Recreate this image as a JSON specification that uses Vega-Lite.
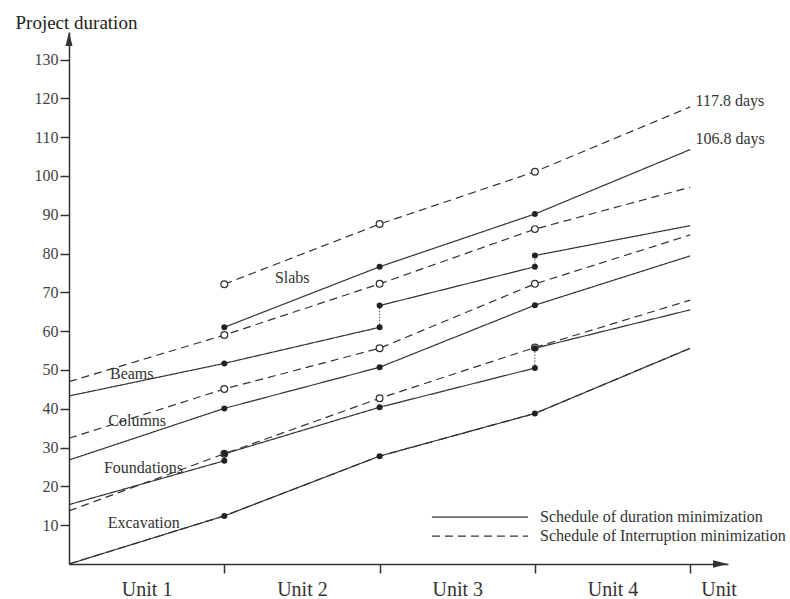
{
  "$schema": "https://vega.github.io/schema/vega-lite/v6.json",
  "width": 659,
  "height": 532,
  "autosize": {"type": "none"},
  "padding": {"left": 69, "top": 32, "right": 62, "bottom": 35},
  "background": "white",
  "config": {
    "view": {"stroke": null},
    "font": "Liberation Serif",
    "axis": {"grid": false}
  },
  "datasets": {
    "lines": [
      {"task": "Excavation", "sched": "D", "seg": "E-D", "x": 0, "y": 0},
      {"task": "Excavation", "sched": "D", "seg": "E-D", "x": 1, "y": 12.4},
      {"task": "Excavation", "sched": "D", "seg": "E-D", "x": 2, "y": 27.8},
      {"task": "Excavation", "sched": "D", "seg": "E-D", "x": 3, "y": 38.8},
      {"task": "Excavation", "sched": "D", "seg": "E-D", "x": 4, "y": 55.6},
      {"task": "Excavation", "sched": "I", "seg": "E-I", "x": 0, "y": 0},
      {"task": "Excavation", "sched": "I", "seg": "E-I", "x": 1, "y": 12.4},
      {"task": "Excavation", "sched": "I", "seg": "E-I", "x": 2, "y": 27.8},
      {"task": "Excavation", "sched": "I", "seg": "E-I", "x": 3, "y": 38.8},
      {"task": "Excavation", "sched": "I", "seg": "E-I", "x": 4, "y": 55.6},
      {"task": "Foundations", "sched": "D", "seg": "F-D1", "x": 0, "y": 15.3},
      {"task": "Foundations", "sched": "D", "seg": "F-D1", "x": 1, "y": 26.6},
      {"task": "Foundations", "sched": "D", "seg": "F-D2", "x": 1, "y": 28.4},
      {"task": "Foundations", "sched": "D", "seg": "F-D2", "x": 2, "y": 40.4},
      {"task": "Foundations", "sched": "D", "seg": "F-D2", "x": 3, "y": 50.5},
      {"task": "Foundations", "sched": "D", "seg": "F-D3", "x": 3, "y": 55.6},
      {"task": "Foundations", "sched": "D", "seg": "F-D3", "x": 4, "y": 65.5},
      {"task": "Foundations", "sched": "I", "seg": "F-I", "x": 0, "y": 13.7},
      {"task": "Foundations", "sched": "I", "seg": "F-I", "x": 1, "y": 28.4},
      {"task": "Foundations", "sched": "I", "seg": "F-I", "x": 2, "y": 42.7},
      {"task": "Foundations", "sched": "I", "seg": "F-I", "x": 3, "y": 55.8},
      {"task": "Foundations", "sched": "I", "seg": "F-I", "x": 4, "y": 68.0},
      {"task": "Columns", "sched": "D", "seg": "C-D", "x": 0, "y": 26.8},
      {"task": "Columns", "sched": "D", "seg": "C-D", "x": 1, "y": 40.1},
      {"task": "Columns", "sched": "D", "seg": "C-D", "x": 2, "y": 50.7},
      {"task": "Columns", "sched": "D", "seg": "C-D", "x": 3, "y": 66.7},
      {"task": "Columns", "sched": "D", "seg": "C-D", "x": 4, "y": 79.4},
      {"task": "Columns", "sched": "I", "seg": "C-I", "x": 0, "y": 32.4},
      {"task": "Columns", "sched": "I", "seg": "C-I", "x": 1, "y": 45.1},
      {"task": "Columns", "sched": "I", "seg": "C-I", "x": 2, "y": 55.6},
      {"task": "Columns", "sched": "I", "seg": "C-I", "x": 3, "y": 72.2},
      {"task": "Columns", "sched": "I", "seg": "C-I", "x": 4, "y": 84.8},
      {"task": "Beams", "sched": "D", "seg": "B-D1", "x": 0, "y": 43.3},
      {"task": "Beams", "sched": "D", "seg": "B-D1", "x": 1, "y": 51.7},
      {"task": "Beams", "sched": "D", "seg": "B-D1", "x": 2, "y": 61.0},
      {"task": "Beams", "sched": "D", "seg": "B-D2", "x": 2, "y": 66.6},
      {"task": "Beams", "sched": "D", "seg": "B-D2", "x": 3, "y": 76.6},
      {"task": "Beams", "sched": "D", "seg": "B-D3", "x": 3, "y": 79.5},
      {"task": "Beams", "sched": "D", "seg": "B-D3", "x": 4, "y": 87.2},
      {"task": "Beams", "sched": "I", "seg": "B-I", "x": 0, "y": 47.0},
      {"task": "Beams", "sched": "I", "seg": "B-I", "x": 1, "y": 59.0},
      {"task": "Beams", "sched": "I", "seg": "B-I", "x": 2, "y": 72.2},
      {"task": "Beams", "sched": "I", "seg": "B-I", "x": 3, "y": 86.3},
      {"task": "Beams", "sched": "I", "seg": "B-I", "x": 4, "y": 97.1},
      {"task": "Slabs", "sched": "D", "seg": "S-D", "x": 1, "y": 61.0},
      {"task": "Slabs", "sched": "D", "seg": "S-D", "x": 2, "y": 76.6},
      {"task": "Slabs", "sched": "D", "seg": "S-D", "x": 3, "y": 90.2},
      {"task": "Slabs", "sched": "D", "seg": "S-D", "x": 4, "y": 106.8},
      {"task": "Slabs", "sched": "I", "seg": "S-I", "x": 1, "y": 72.1},
      {"task": "Slabs", "sched": "I", "seg": "S-I", "x": 2, "y": 87.6},
      {"task": "Slabs", "sched": "I", "seg": "S-I", "x": 3, "y": 101.1},
      {"task": "Slabs", "sched": "I", "seg": "S-I", "x": 4, "y": 117.8}
    ],
    "connectors": [
      {"x": 1, "y": 26.6, "y2": 28.4},
      {"x": 2, "y": 61.0, "y2": 66.6},
      {"x": 3, "y": 50.5, "y2": 55.6},
      {"x": 3, "y": 76.6, "y2": 79.5}
    ],
    "labels": [
      {"label": "Slabs", "x": 1.326, "y": 72.3},
      {"label": "Beams", "x": 0.264, "y": 47.6},
      {"label": "Columns", "x": 0.253, "y": 35.6},
      {"label": "Foundations", "x": 0.225, "y": 23.4},
      {"label": "Excavation", "x": 0.249, "y": 9.2},
      {"label": "117.8 days", "x": 4.034, "y": 118.1},
      {"label": "106.8 days", "x": 4.034, "y": 108.2}
    ],
    "legend": [
      {"sched": "D", "label": "Schedule of duration minimization", "x": 2.337, "x2": 2.956, "xt": 3.033, "y": 12.1},
      {"sched": "I", "label": "Schedule of Interruption minimization", "x": 2.337, "x2": 2.956, "xt": 3.033, "y": 7.2}
    ]
  },
  "layer": [
    {
      "data": {"name": "connectors"},
      "mark": {"type": "rule", "strokeDash": [1.5, 1.5], "strokeWidth": 1, "color": "#555"},
      "encoding": {
        "x": {"field": "x", "type": "quantitative", "scale": {"domain": [0, 4.2434], "nice": false, "zero": true},
          "axis": {
            "values": [0.5, 1, 1.5, 2, 2.5, 3, 3.5, 4, 4.183],
            "title": null,
            "labelExpr": "datum.value == 0.5 ? 'Unit 1' : datum.value == 1.5 ? 'Unit 2' : datum.value == 2.5 ? 'Unit 3' : datum.value == 3.5 ? 'Unit 4' : datum.value > 4.1 ? 'Unit' : ''",
            "labelFont": "Liberation Serif",
            "labelFontSize": 20,
            "labelColor": "#333",
            "labelPadding": 6,
            "labelOverlap": false,
            "labelBound": false,
            "labelFlush": false,
            "tickSize": 9,
            "tickWidth": 1.5,
            "tickColor": "#333",
            "tickOpacity": {"condition": {"test": "datum.value == 1 || datum.value == 2 || datum.value == 3 || datum.value == 4", "value": 1}, "value": 0},
            "domainColor": "#333",
            "domainWidth": 1.5,
            "grid": false
          }
        },
        "y": {"field": "y", "type": "quantitative", "scale": {"domain": [0, 137.1], "nice": false, "zero": true},
          "axis": {
            "values": [10, 20, 30, 40, 50, 60, 70, 80, 90, 100, 110, 120, 130],
            "title": "Project duration",
            "titleAngle": 0,
            "titleX": -54,
            "titleY": -4,
            "titleAlign": "left",
            "titleBaseline": "alphabetic",
            "titleFont": "Liberation Serif",
            "titleFontSize": 19,
            "titleFontWeight": "normal",
            "titleColor": "#222",
            "labelFont": "Liberation Serif",
            "labelFontSize": 16,
            "labelColor": "#444",
            "labelPadding": 2,
            "tickSize": 9,
            "tickWidth": 1.5,
            "tickColor": "#333",
            "domainColor": "#333",
            "domainWidth": 1.5,
            "grid": false
          }
        },
        "y2": {"field": "y2"}
      }
    },
    {
      "data": {"name": "lines"},
      "mark": {"type": "line", "color": "#333", "strokeWidth": 1.2},
      "encoding": {
        "x": {"field": "x", "type": "quantitative"},
        "y": {"field": "y", "type": "quantitative"},
        "detail": {"field": "seg"},
        "strokeDash": {
          "field": "sched", "type": "nominal",
          "scale": {"domain": ["D", "I"], "range": [[1, 0], [8, 5]]},
          "legend": null
        }
      }
    },
    {
      "data": {"name": "legend"},
      "mark": {"type": "rule", "color": "#333", "strokeWidth": 1.2},
      "encoding": {
        "x": {"field": "x", "type": "quantitative"},
        "x2": {"field": "x2"},
        "y": {"field": "y", "type": "quantitative"},
        "strokeDash": {"field": "sched", "type": "nominal", "legend": null}
      }
    },
    {
      "data": {"name": "legend"},
      "mark": {"type": "text", "align": "left", "baseline": "middle", "font": "Liberation Serif", "fontSize": 16, "color": "#333"},
      "encoding": {
        "x": {"field": "xt", "type": "quantitative"},
        "y": {"field": "y", "type": "quantitative"},
        "text": {"field": "label"}
      }
    },
    {
      "data": {"name": "lines"},
      "transform": [{"filter": "datum.x > 0 && datum.x < 4 && datum.sched == 'I' && datum.task != 'Excavation'"}],
      "mark": {"type": "point", "shape": "circle", "filled": false, "fill": "white", "fillOpacity": 1, "stroke": "#333", "strokeWidth": 1.2, "size": 46, "opacity": 1},
      "encoding": {
        "x": {"field": "x", "type": "quantitative"},
        "y": {"field": "y", "type": "quantitative"}
      }
    },
    {
      "data": {"name": "lines"},
      "transform": [{"filter": "datum.x > 0 && datum.x < 4 && datum.sched == 'D'"}],
      "mark": {"type": "point", "shape": "circle", "filled": true, "color": "#222", "size": 36, "opacity": 1},
      "encoding": {
        "x": {"field": "x", "type": "quantitative"},
        "y": {"field": "y", "type": "quantitative"}
      }
    },
    {
      "data": {"name": "labels"},
      "mark": {"type": "text", "align": "left", "baseline": "alphabetic", "font": "Liberation Serif", "fontSize": 16, "color": "#333"},
      "encoding": {
        "x": {"field": "x", "type": "quantitative"},
        "y": {"field": "y", "type": "quantitative"},
        "text": {"field": "label"}
      }
    },
    {
      "data": {"values": [{"x": 4.195, "y": 0}]},
      "mark": {"type": "point", "shape": "M-1,-0.5L1,0L-1,0.5Z", "filled": true, "color": "#333", "size": 225, "opacity": 1},
      "encoding": {
        "x": {"field": "x", "type": "quantitative"},
        "y": {"field": "y", "type": "quantitative"}
      }
    },
    {
      "data": {"values": [{"x": 0, "y": 135.3}]},
      "mark": {"type": "point", "shape": "M-0.5,1L0,-1L0.5,1Z", "filled": true, "color": "#333", "size": 196, "opacity": 1},
      "encoding": {
        "x": {"field": "x", "type": "quantitative"},
        "y": {"field": "y", "type": "quantitative"}
      }
    }
  ]
}
